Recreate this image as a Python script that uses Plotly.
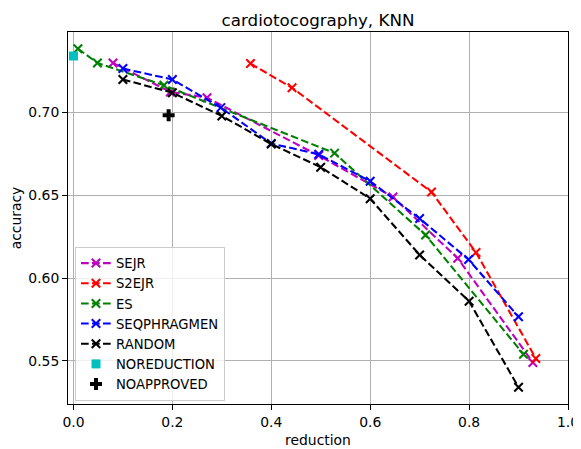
import plotly.graph_objects as go

# ---- data ----
sejr_x = [0.080, 0.196, 0.270, 0.496, 0.646, 0.777, 0.929]
sejr_y = [0.730, 0.7125, 0.709, 0.674, 0.649, 0.612, 0.549]

s2ejr_x = [0.358, 0.442, 0.724, 0.814, 0.935]
s2ejr_y = [0.7296, 0.715, 0.652, 0.6155, 0.5514]

es_x = [0.009, 0.0485, 0.183, 0.528, 0.712, 0.910]
es_y = [0.7386, 0.730, 0.7165, 0.6755, 0.626, 0.554]

seq_x = [0.100, 0.200, 0.298, 0.400, 0.496, 0.600, 0.700, 0.799, 0.900]
seq_y = [0.7266, 0.720, 0.703, 0.6813, 0.6748, 0.6585, 0.636, 0.6112, 0.5766]

rand_x = [0.1, 0.2, 0.3, 0.4, 0.5, 0.6, 0.7, 0.8, 0.9]
rand_y = [0.720, 0.712, 0.698, 0.681, 0.667, 0.648, 0.614, 0.586, 0.534]

noreduction_x = [0.0]
noreduction_y = [0.7342]

noapproved_x = [0.1925]
noapproved_y = [0.6984]

x_ticks = [0.0, 0.2, 0.4, 0.6, 0.8, 1.0]
y_ticks = [0.55, 0.60, 0.65, 0.70]

FONT = "DejaVu Sans"
fs = 13.9
dash = "7.7px,3.3px"

# page body adds an 8px offset; size the figure so the plot lands in place
W, H = 573, 441

fig = go.Figure()

def add_line(x, y, name, color):
    fig.add_trace(go.Scatter(
        x=x, y=y, name=name, mode="lines+markers",
        line=dict(color=color, width=2.08, dash=dash),
        marker=dict(symbol="x-thin", size=8.5, color=color,
                    line=dict(color=color, width=2.08)),
        hoverinfo="skip",
    ))

add_line(sejr_x, sejr_y, "SEJR", "#bf00bf")
add_line(s2ejr_x, s2ejr_y, "S2EJR", "#ff0000")
add_line(es_x, es_y, "ES", "#008000")
add_line(seq_x, seq_y, "SEQPHRAGMEN", "#0000ff")
add_line(rand_x, rand_y, "RANDOM", "#000000")

fig.add_trace(go.Scatter(
    x=noreduction_x, y=noreduction_y, name="NOREDUCTION", mode="markers",
    marker=dict(symbol="square", size=9, color="#00bfbf", line=dict(width=0)),
    hoverinfo="skip",
))
fig.add_trace(go.Scatter(
    x=noapproved_x, y=noapproved_y, name="NOAPPROVED", mode="markers",
    marker=dict(symbol="cross", size=10, color="#000000", line=dict(width=0)),
    hoverinfo="skip",
))

axis_common = dict(
    showgrid=True, gridcolor="#b0b0b0", gridwidth=1.1,
    showline=True, linecolor="black", linewidth=1.1, mirror=True,
    ticks="outside", ticklen=4.9, tickwidth=1.1, tickcolor="black",
    tickfont=dict(family=FONT, size=fs, color="black"),
    zeroline=False, automargin=False,
)

fig.update_layout(
    width=W, height=H,
    margin=dict(l=60, r=13, t=24, b=45),
    paper_bgcolor="white", plot_bgcolor="white",
    font=dict(family=FONT, size=fs, color="black"),
    title=dict(text="cardiotocography, KNN", x=310/W, xanchor="center",
               y=1 - 12.5/H, yanchor="middle",
               font=dict(family=FONT, size=16.7, color="black")),
    xaxis=dict(axis_common, range=[-0.011, 1.0], tickvals=x_ticks,
               ticktext=[f"{v:.1f}" for v in x_ticks],
               title=dict(text="reduction", standoff=6,
                          font=dict(family=FONT, size=fs))),
    yaxis=dict(axis_common, range=[0.5239, 0.7487], tickvals=y_ticks,
               ticktext=[f"{v:.2f}" for v in y_ticks],
               title=dict(text="accuracy", standoff=4,
                          font=dict(family=FONT, size=fs))),
    legend=dict(x=0.014, y=0.422, xanchor="left", yanchor="top",
                bgcolor="rgba(255,255,255,0.8)", bordercolor="#cccccc",
                borderwidth=1, font=dict(family=FONT, size=13.2),
                tracegroupgap=0, itemwidth=30),
    showlegend=True,
)

fig.write_html("out.html", config={"displayModeBar": False})
